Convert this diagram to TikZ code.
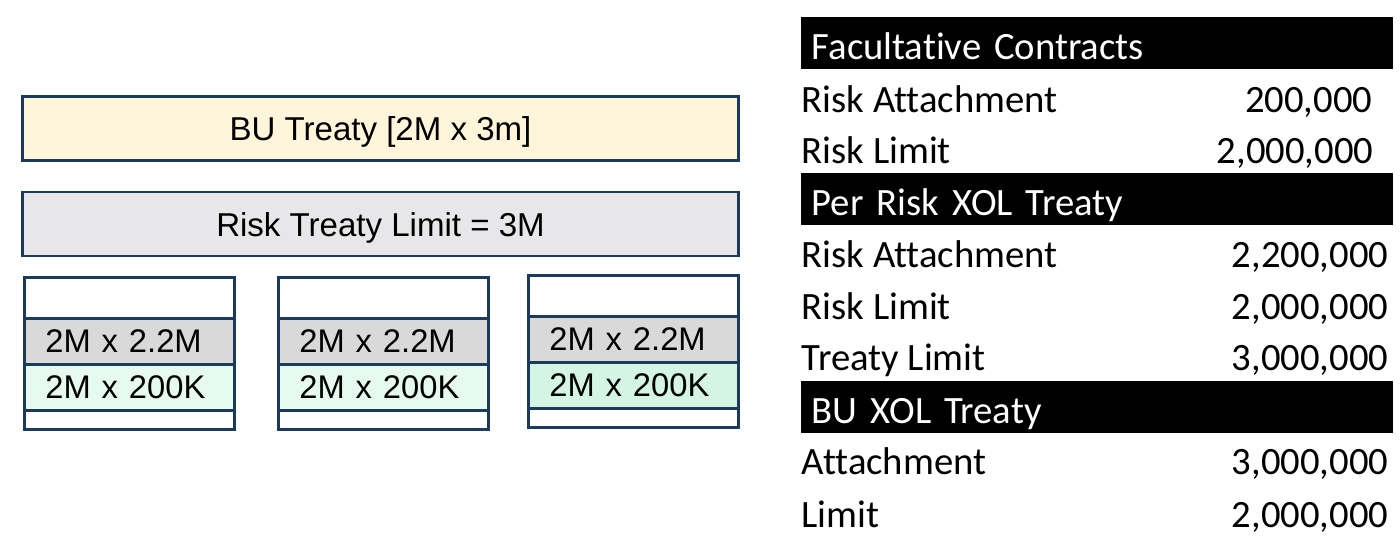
\documentclass[tikz,border=0pt]{standalone}
\usepackage{fontspec}
\setmainfont{Carlito}[Ligatures=NoCommon]
\newfontfamily\boxfont{Liberation Sans}
\usetikzlibrary{positioning}

\definecolor{navy}{HTML}{1B3A5C}
\definecolor{cream}{HTML}{FFF5DA}
\definecolor{limitgray}{HTML}{E7E7E9}
\definecolor{layergray}{HTML}{D9D9D9}
\definecolor{mint}{HTML}{E6FAF0}
\definecolor{mintdeep}{HTML}{D4F5E4}

\tikzset{
  treatybox/.style={draw=navy, line width=0.8pt, minimum width=7.15cm,
    minimum height=0.64cm, inner sep=0pt, text height=0.24cm, text depth=0pt,
    font=\boxfont\fontsize{9.4pt}{11pt}\selectfont},
  layer/.style={draw=navy, line width=0.8pt, anchor=north west, inner ysep=0pt,
    inner xsep=0.21cm, text width=1.68cm, align=left, text height=0pt,
    text depth=0pt, font=\boxfont\fontsize{9.3pt}{11pt}\selectfont},
  textlayer/.style={layer, text height=0.23cm},
  hdr/.style={fill=black, text=white, anchor=north west, minimum height=0.52cm,
    inner ysep=0pt, inner xsep=0.11cm, text width=5.70cm, align=left,
    text height=0.34cm, text depth=0pt, font=\fontsize{11pt}{13pt}\selectfont},
  rowlab/.style={anchor=base west, inner sep=0pt, font=\fontsize{11pt}{13pt}\selectfont},
  rowval/.style={anchor=base east, inner sep=0pt, font=\fontsize{11pt}{13pt}\selectfont}
}

\begin{document}
\begin{tikzpicture}[x=0.01cm, y=-0.01cm]

\useasboundingbox (0,0) rectangle (1400,541);

% treaty boxes
\node[treatybox, fill=cream] (bu) at (380.5,128.5) {BU Treaty [2M x 3m]};
\node[treatybox, fill=limitgray] (risktreaty) at (380.5,224) {Risk Treaty Limit = 3M};

% per risk stacks
\foreach \x/\n/\dy/\g in {23/1/0/mint, 277/2/0/mint, 527/3/-2/mintdeep}{
  \node[layer, fill=white, minimum height=0.41cm] (top\n) at (\x,276+\dy) {};
  \node[textlayer, fill=layergray, minimum height=0.46cm] (xol\n) at (\x,317+\dy) {2M x 2.2M};
  \node[textlayer, fill=\g, minimum height=0.46cm] (fac\n) at (\x,363+\dy) {2M x 200K};
  \node[layer, fill=white, minimum height=0.19cm] (base\n) at (\x,409+\dy) {};
}

% Facultative contracts
\node[hdr] (fachdr) at (800,16) {Facultative Contracts};
\node[rowlab] (facattl) at (801,112) {Risk Attachment};
\node[rowval] (facattv) at (1373,112) {200,000};
\node[rowlab] (facliml) at (801,163) {Risk Limit};
\node[rowval] (faclimv) at (1374,163) {2,000,000};

% Per risk XOL treaty
\node[hdr] (prhdr) at (800,172) {Per Risk XOL Treaty};
\node[rowlab] (prattl) at (801,267) {Risk Attachment};
\node[rowval] (prattv) at (1389,267) {2,200,000};
\node[rowlab] (prliml) at (801,319) {Risk Limit};
\node[rowval] (prlimv) at (1389,319) {2,000,000};
\node[rowlab] (prtrl) at (801,370) {Treaty Limit};
\node[rowval] (prtrv) at (1389,370) {3,000,000};

% BU XOL treaty
\node[hdr] (buhdr) at (800,380) {BU XOL Treaty};
\node[rowlab] (buattl) at (801,474) {Attachment};
\node[rowval] (buattv) at (1389,474) {3,000,000};
\node[rowlab] (buliml) at (801,527) {Limit};
\node[rowval] (bulimv) at (1389,527) {2,000,000};

\end{tikzpicture}
\end{document}
